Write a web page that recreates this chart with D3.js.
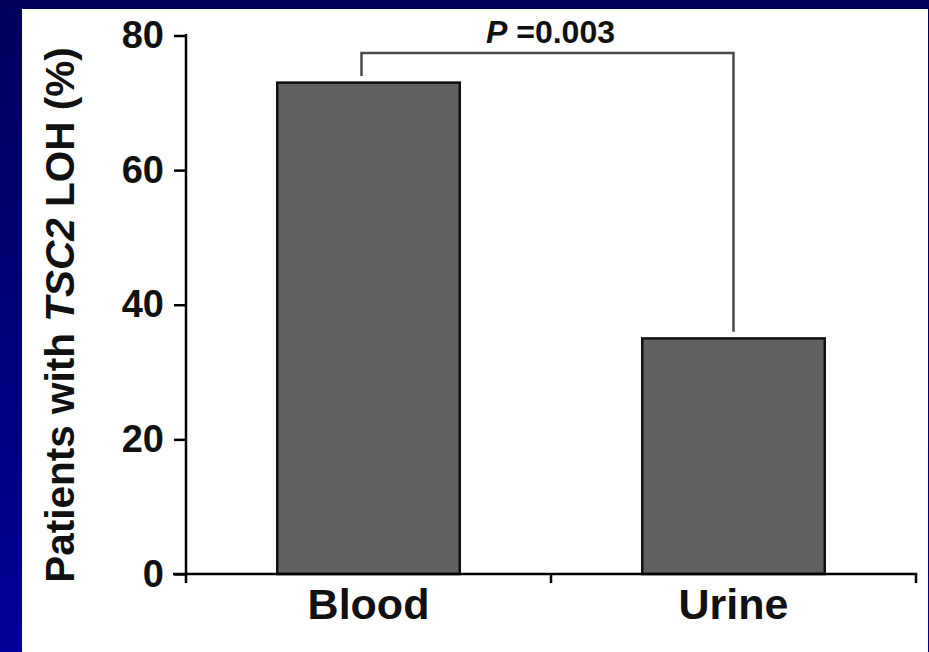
<!DOCTYPE html>
<html>
<head>
<meta charset="utf-8">
<script src="https://cdn.jsdelivr.net/npm/d3@7"></script>
<style>
  html, body { margin: 0; padding: 0; background: #000080; }
  svg { display: block; font-family: "Liberation Sans", Arial, sans-serif; }
</style>
</head>
<body>
<svg id="chart" width="929" height="652"></svg>
<script>
// data
var categories = ["Blood", "Urine"];
var lohPercent = [73, 35];
var yTicks = [0, 20, 40, 60, 80];
// significance bracket: [left leg end, top, right leg end] in %
var bracketLevels = [74, 77.4, 36];
var pLabel = "0.003";

var svg = d3.select("#chart"),
    W = 929, H = 652;

//
// slide background: blue gradient with white panel
var defs = svg.append("defs");
var grad = defs.append("linearGradient")
  .attr("id", "bg").attr("x1", 0).attr("y1", 0).attr("x2", 0).attr("y2", 1);
grad.append("stop").attr("offset", "0%").attr("stop-color", "#00005c");
grad.append("stop").attr("offset", "100%").attr("stop-color", "#000098");

svg.append("rect").attr("width", W).attr("height", H).attr("fill", "url(#bg)");
svg.append("rect")
  .attr("x", 22).attr("y", 9)
  .attr("width", 906).attr("height", H - 9)
  .attr("fill", "#fff");

//
// scales
var x0 = 186, x1 = 916, yBase = 574, yTop = 35.5;
var x = d3.scaleBand().domain(categories).range([x0, x1])
  .paddingInner(0.5).paddingOuter(0.25);
var y = d3.scaleLinear().domain([0, 80]).range([yBase, yTop]);

var g = svg.append("g");

//
// y axis
var yAxis = g.append("g")
  .attr("transform", "translate(" + x0 + ",0)")
  .call(d3.axisLeft(y).tickValues(yTicks).tickSize(12).tickPadding(10));
yAxis.select(".domain").remove();
yAxis.selectAll(".tick line").attr("stroke", "#000").attr("stroke-width", 2.5);
yAxis.selectAll(".tick text")
  .attr("font-size", 38).attr("font-weight", "bold").attr("fill", "#111")
  .attr("font-family", "Liberation Sans, Arial, sans-serif");

g.append("line")
  .attr("x1", x0).attr("x2", x0)
  .attr("y1", y(80) - 1.5).attr("y2", yBase + 9)
  .attr("stroke", "#000").attr("stroke-width", 2.5);

//
// bars
g.selectAll("rect.bar")
  .data(categories)
  .enter().append("rect")
  .attr("class", "bar")
  .attr("x", (d) => x(d))
  .attr("width", x.bandwidth())
  .attr("y", (d, i) => y(lohPercent[i]))
  .attr("height", (d, i) => yBase - y(lohPercent[i]))
  .attr("fill", "#606060")
  .attr("stroke", "#111")
  .attr("stroke-width", 2.5);

//
// x axis: baseline plus boundary ticks between categories
var xAxis = g.append("g")
  .attr("transform", "translate(0," + yBase + ")")
  .call(d3.axisBottom(x).tickSize(0).tickPadding(14));
xAxis.select(".domain").remove();
xAxis.selectAll(".tick text")
  .attr("font-size", 43).attr("font-weight", "bold").attr("fill", "#111")
  .attr("font-family", "Liberation Sans, Arial, sans-serif");

g.append("line")
  .attr("x1", x0 - 13).attr("x2", x1 + 1.25)
  .attr("y1", yBase).attr("y2", yBase)
  .attr("stroke", "#000").attr("stroke-width", 2.5);

// category boundaries: midway between bands, and the right end
var bounds = categories.slice(1).map((c) => x(c) - x.step() * x.paddingInner() / 2)
  .concat([x1]);
g.selectAll("line.xtick")
  .data(bounds)
  .enter().append("line")
  .attr("class", "xtick")
  .attr("x1", (d) => d).attr("x2", (d) => d)
  .attr("y1", yBase).attr("y2", yBase + 9)
  .attr("stroke", "#000").attr("stroke-width", 2.5);

//
// significance bracket
var bxL = x("Blood") + x.bandwidth() / 2 - 7,
    bxR = x("Urine") + x.bandwidth() / 2;
g.append("path")
  .attr("d", "M" + bxL + "," + y(bracketLevels[0]) +
             "V" + y(bracketLevels[1]) +
             "H" + bxR +
             "V" + y(bracketLevels[2]))
  .attr("fill", "none")
  .attr("stroke", "#4a4a4a")
  .attr("stroke-width", 2.5);

var pText = g.append("text")
  .attr("x", (bxL + bxR) / 2 + 3)
  .attr("y", y(bracketLevels[1]) - 10)
  .attr("text-anchor", "middle")
  .attr("font-size", 32)
  .attr("font-weight", "bold")
  .attr("fill", "#111");
pText.append("tspan").attr("font-style", "italic").text("P");
pText.append("tspan").text(" =" + pLabel);

//
// y axis title, with italic gene name
var title = g.append("text")
  .attr("transform", "translate(74,315) rotate(-90)")
  .attr("text-anchor", "middle")
  .attr("font-size", 40.5)
  .attr("font-weight", "bold")
  .attr("fill", "#111");
title.append("tspan").text("Patients with ");
title.append("tspan").attr("font-style", "italic").text("TSC2");
title.append("tspan").text(" LOH (%)");
</script>
</body>
</html>
